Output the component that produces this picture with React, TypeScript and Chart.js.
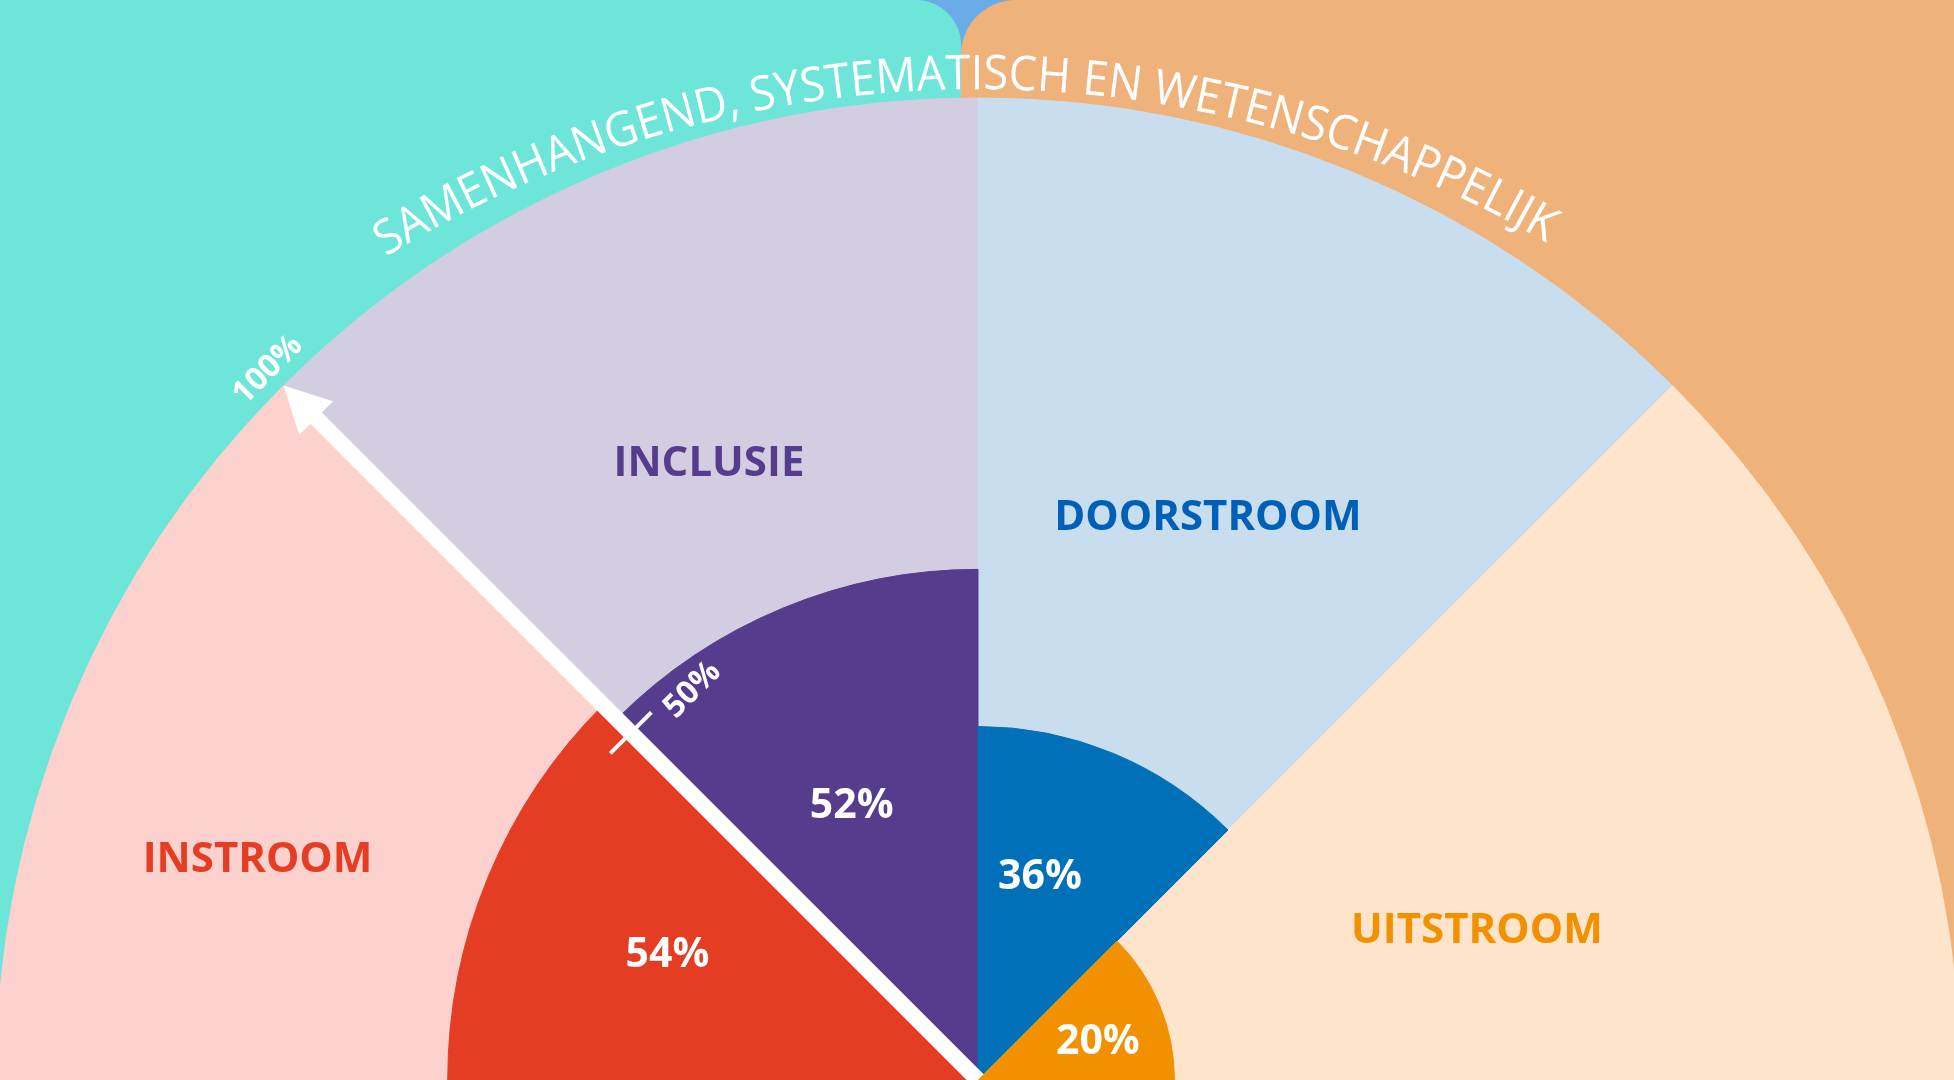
import React, { useEffect, useRef } from 'react';
import { Chart, registerables } from 'chart.js';

Chart.register(...registerables);

// ---- data ----
const categories = ['INSTROOM', 'INCLUSIE', 'DOORSTROOM', 'UITSTROOM'];
const scores = [54, 52, 36, 20];
const fullScale = [100, 100, 100, 100];
const arcTitle = 'SAMENHANGEND, SYSTEMATISCH EN WETENSCHAPPELIJK';
const axisTicks = [50, 100];

// ---- styles ----
const scoreColors = ['#E43D24', '#553C8D', '#0070B8', '#F29100'];
const backColors = ['#FDD1CD', '#D3CDE2', '#C8DEEF', '#FDE4CA'];
const labelColors = ['#E43D24', '#553C8D', '#0060B8', '#F29100'];
const TEAL = '#6EE5D9';
const OUTER_ORANGE = '#F0B27B';
const TOP_BLUE = '#6AACE8';

// label layout: [radius fraction, angle in degrees (CCW from east)]
const categoryLabelPos = [[0.768, 162.8], [0.687, 113.5], [0.621, 67.85], [0.531, 16.9]];
const valueLabelPos = [[0.342, 157.6], [0.31, 114.5], [0.219, 73.25], [0.129, 18.9]];

const DEG = Math.PI / 180;
const FONT = "'Open Sans', 'Noto Sans', sans-serif";

function polar(cx: number, cy: number, r: number, a: number): [number, number] {
  return [cx + r * Math.cos(a * DEG), cy - r * Math.sin(a * DEG)];
}

function roundTopRect(ctx: CanvasRenderingContext2D, x0: number, x1: number, y0: number, y1: number, rl: number, rr: number) {
  ctx.beginPath();
  ctx.moveTo(x0, y1);
  ctx.lineTo(x0, y0 + rl);
  if (rl > 0) ctx.arcTo(x0, y0, x0 + rl, y0, rl);
  ctx.lineTo(x1 - rr, y0);
  if (rr > 0) ctx.arcTo(x1, y0, x1, y0 + rr, rr);
  ctx.lineTo(x1, y1);
  ctx.closePath();
  ctx.fill();
}

function drawArcText(ctx: CanvasRenderingContext2D, text: string, tcx: number, tcy: number, R: number, centerDeg: number, spanDeg: number, font: string) {
  ctx.save();
  ctx.font = font;
  ctx.fillStyle = '#FFFFFF';
  ctx.textAlign = 'center';
  ctx.textBaseline = 'alphabetic';
  const chars = Array.from(text);
  const widths = chars.map((c) => ctx.measureText(c).width);
  const natural = widths.reduce((a, b) => a + b, 0);
  const target = spanDeg * DEG * R;
  const s = target / natural;
  const sx = Math.min(1, s);
  const extra = s > 1 ? (target - natural) / (chars.length - 1) : 0;
  let theta = -centerDeg * DEG - target / 2 / R;
  chars.forEach((c, i) => {
    const w = widths[i] * sx;
    const mid = theta + w / 2 / R;
    const x = tcx + R * Math.cos(mid);
    const y = tcy + R * Math.sin(mid);
    ctx.save();
    ctx.translate(x, y);
    ctx.rotate(mid + Math.PI / 2);
    ctx.scale(sx, 1);
    ctx.fillText(c, 0, 0);
    ctx.restore();
    theta += (w + extra) / R;
  });
  ctx.restore();
}

const decorPlugin = {
  id: 'decor',
  beforeDraw(chart: any) {
    const ctx: CanvasRenderingContext2D = chart.ctx;
    const scale = chart.scales.r;
    const cx = scale.xCenter;
    const W = chart.width;
    const H = chart.height;
    ctx.save();
    ctx.fillStyle = TOP_BLUE;
    ctx.fillRect(0, 0, W, H);
    const split = cx - 17;
    ctx.fillStyle = TEAL;
    roundTopRect(ctx, 0, split, 0, H, 0, 45);
    ctx.fillStyle = OUTER_ORANGE;
    roundTopRect(ctx, split, W, 0, H, 55, 0);
    ctx.restore();
  },
  afterDatasetsDraw(chart: any) {
    const ctx: CanvasRenderingContext2D = chart.ctx;
    const scale = chart.scales.r;
    const cx = scale.xCenter;
    const cy = scale.yCenter;
    const R = scale.drawingArea;
    const n = categories.length;
    const step = 180 / n;
    const axisAngle = 180 - step; // boundary between INSTROOM and INCLUSIE

    ctx.save();
    // arrow
    const ux = Math.cos(axisAngle * DEG);
    const uy = -Math.sin(axisAngle * DEG);
    const tipR = scale.getDistanceFromCenterForValue(axisTicks[1]);
    const headLen = 46;
    const headHalf = 24;
    ctx.strokeStyle = '#FFFFFF';
    ctx.fillStyle = '#FFFFFF';
    ctx.lineWidth = 16;
    ctx.lineCap = 'butt';
    ctx.beginPath();
    ctx.moveTo(cx, cy);
    ctx.lineTo(cx + ux * (tipR - headLen + 4), cy + uy * (tipR - headLen + 4));
    ctx.stroke();
    const tx = cx + ux * tipR;
    const ty = cy + uy * tipR;
    const bx = cx + ux * (tipR - headLen);
    const by = cy + uy * (tipR - headLen);
    const px = -uy;
    const py = ux;
    ctx.beginPath();
    ctx.moveTo(tx, ty);
    ctx.lineTo(bx + px * headHalf, by + py * headHalf);
    ctx.lineTo(bx - px * headHalf, by - py * headHalf);
    ctx.closePath();
    ctx.fill();

    // 50% tick
    const midR = scale.getDistanceFromCenterForValue(axisTicks[0]);
    const mx = cx + ux * midR;
    const my = cy + uy * midR;
    const tgx = Math.SQRT1_2;
    const tgy = -Math.SQRT1_2;
    ctx.lineWidth = 4;
    ctx.beginPath();
    ctx.moveTo(mx - tgx * 29, my - tgy * 29);
    ctx.lineTo(mx + tgx * 29, my + tgy * 29);
    ctx.stroke();

    // tick labels
    ctx.font = `700 32px ${FONT}`;
    ctx.textAlign = 'center';
    ctx.textBaseline = 'alphabetic';
    const capOff = 0.357 * 32;
    const l50x = mx + tgx * 74 - ux * 11;
    const l50y = my + tgy * 74 - uy * 11;
    ctx.save();
    ctx.translate(l50x, l50y);
    ctx.rotate(-45 * DEG);
    ctx.fillText(axisTicks[0] + '%', 0, capOff);
    ctx.restore();
    const l100x = cx + ux * R * 1.025;
    const l100y = cy + uy * R * 1.025;
    ctx.save();
    ctx.translate(l100x, l100y);
    ctx.rotate(-45 * DEG);
    ctx.fillText(axisTicks[1] + '%', 0, capOff);
    ctx.restore();

    // category labels
    ctx.font = `700 42px ${FONT}`;
    categories.forEach((c, i) => {
      const [x, y] = polar(cx, cy, R * categoryLabelPos[i][0], categoryLabelPos[i][1]);
      ctx.fillStyle = labelColors[i];
      ctx.fillText(c, x, y + 0.357 * 42);
    });
    // value labels
    ctx.font = `700 41px ${FONT}`;
    ctx.fillStyle = '#FFFFFF';
    scores.forEach((v, i) => {
      const [x, y] = polar(cx, cy, R * valueLabelPos[i][0], valueLabelPos[i][1]);
      ctx.fillText(v + '%', x, y + 0.357 * 41);
    });
    ctx.restore();

    // curved title
    drawArcText(ctx, arcTitle, cx, cy + R * 0.142, R * 1.151, 90.7, 61.8, `400 48px ${FONT}`);
  },
};

export default function App() {
  const ref = useRef<HTMLCanvasElement>(null);
  useEffect(() => {
    document.body.style.margin = '0';
    const chart = new Chart(ref.current as HTMLCanvasElement, {
      type: 'polarArea',
      data: {
        labels: categories,
        datasets: [
          {
            label: 'Score',
            data: scores,
            backgroundColor: scoreColors,
            borderColor: scoreColors,
            borderWidth: 1,
            angle: 180 / categories.length,
          } as any,
          {
            label: 'Max',
            data: fullScale,
            backgroundColor: backColors,
            borderColor: backColors,
            borderWidth: 1,
            angle: 180 / categories.length,
          } as any,
        ],
      },
      options: {
        responsive: false,
        animation: false,
        layout: { padding: 0 },
        plugins: { legend: { display: false }, tooltip: { enabled: false } },
        scales: {
          r: {
            min: 0,
            max: 100,
            startAngle: 270,
            ticks: { display: false },
            grid: { display: false },
            angleLines: { display: false },
            pointLabels: { display: false },
          },
        },
      } as any,
      plugins: [decorPlugin],
    });
    return () => chart.destroy();
  }, []);
  return (
    <div style={{ position: 'fixed', left: 0, top: 0, width: 1954, height: 1080, overflow: 'hidden', background: TOP_BLUE }}>
      <canvas ref={ref} width={1964} height={2160} style={{ position: 'absolute', left: -4, top: 0, width: 1964, height: 2160 }} />
    </div>
  );
}
